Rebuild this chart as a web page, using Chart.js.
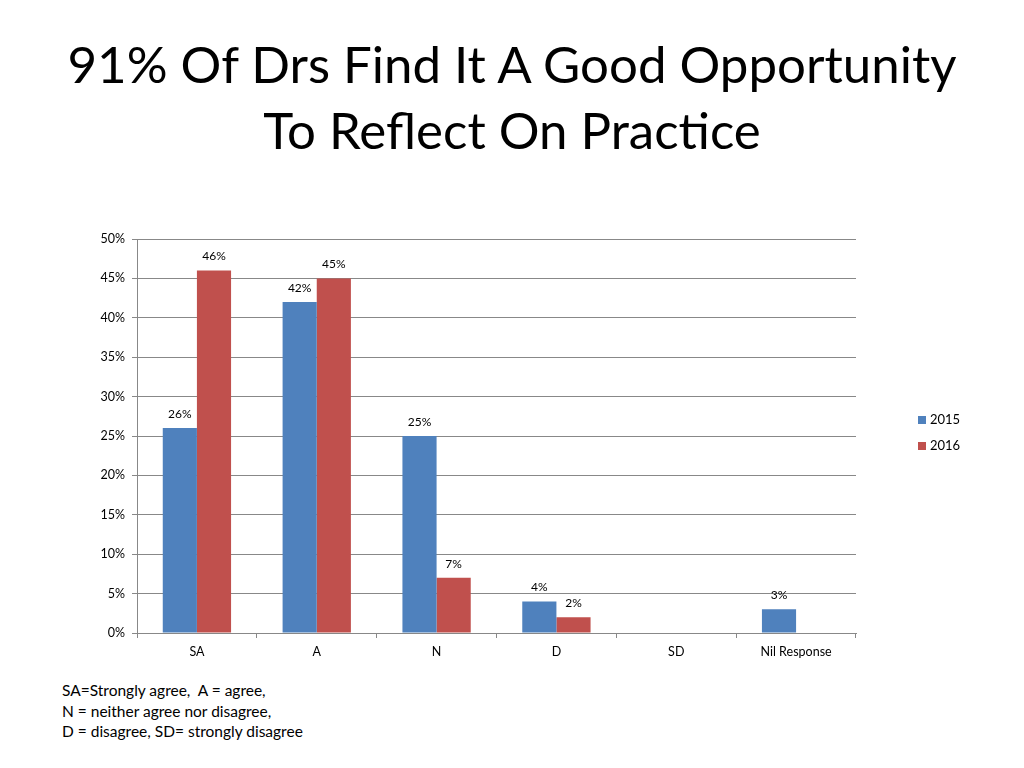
<!DOCTYPE html>
<html>
<head>
<meta charset="utf-8">
<script src="https://cdn.jsdelivr.net/npm/chart.js@4.4.1/dist/chart.umd.min.js"></script>
<style>
  body { margin: 0; width: 1024px; height: 768px; background: #fff; font-family: Lato, "Open Sans", sans-serif; position: relative; overflow: hidden; }
  .title { position: absolute; left: 0; top: 31px; width: 1024px; text-align: center; font-size: 51px; line-height: 66px; color: #000; }
  .chartBox { position: absolute; left: 0; top: 220px; width: 1024px; height: 460px; }
  .legend { position: absolute; left: 918px; top: 410px; font-size: 13px; color: #000; }
  .legend div { height: 26px; line-height: 18px; }
  .legend span { display: inline-block; width: 8px; height: 8px; margin-right: 4px; vertical-align: 0px; }
  .note { position: absolute; left: 62px; top: 680px; font-size: 15.5px; line-height: 20.5px; color: #000; }
</style>
</head>
<body>
<div class="title">91% Of Drs Find It A Good Opportunity<br>To Reflect On Practice</div>
<div class="chartBox"><canvas id="chart" width="1024" height="460"></canvas></div>
<div class="legend" id="legend"></div>
<div class="note">SA=Strongly agree,&nbsp; A = agree,<br>N = neither agree nor disagree,<br>D = disagree, SD= strongly disagree</div>
<script>
// data
const categories = ['SA', 'A', 'N', 'D', 'SD', 'Nil Response'];
const values2015 = [26, 42, 25, 4, null, 3];
const values2016 = [46, 45, 7, 2, null, null];
const seriesNames = ['2015', '2016'];
const seriesColors = ['#4f81bd', '#c0504d'];
const yTicks = [0, 5, 10, 15, 20, 25, 30, 35, 40, 45, 50];

const fontFamily = 'Lato, "Open Sans", sans-serif';

// value labels above each bar
const barLabels = {
  id: 'barLabels',
  afterDatasetsDraw(chart) {
    const ctx = chart.ctx;
    ctx.save();
    ctx.font = '12px ' + fontFamily;
    ctx.fillStyle = '#000';
    ctx.textAlign = 'center';
    ctx.textBaseline = 'bottom';
    chart.data.datasets.forEach((ds, i) => {
      chart.getDatasetMeta(i).data.forEach((bar, j) => {
        const v = ds.data[j];
        if (v === null) return;
        ctx.fillText(v + '%', bar.x, bar.y - 8);
      });
    });
    ctx.restore();
  }
};

const ctx = document.getElementById('chart').getContext('2d');
const chart = new Chart(ctx, {
  type: 'bar',
  data: {
    labels: categories,
    datasets: [
      { label: seriesNames[0], data: values2015, backgroundColor: seriesColors[0] },
      { label: seriesNames[1], data: values2016, backgroundColor: seriesColors[1] }
    ]
  },
  options: {
    responsive: false,
    animation: false,
    layout: { padding: { left: 80, right: 168, top: 19, bottom: 0 } },
    datasets: { bar: { categoryPercentage: 0.57, barPercentage: 1.0 } },
    plugins: {
      legend: { display: false },
      tooltip: { enabled: false }
    },
    scales: {
      x: {
        grid: { display: true, drawOnChartArea: false, drawTicks: true, tickLength: 5, color: '#888', offset: true },
        border: { color: '#888' },
        ticks: { color: '#000', font: { size: 12.5, family: fontFamily }, padding: 6 },
        afterFit(scale) { scale.height = 47; }
      },
      y: {
        min: 0,
        max: 50,
        afterBuildTicks(scale) { scale.ticks = yTicks.map(v => ({ value: v })); },
        grid: { color: '#888', tickLength: 5 },
        border: { color: '#888' },
        ticks: { color: '#000', font: { size: 12.5, family: fontFamily }, padding: 7, callback: v => v + '%' },
        afterFit(scale) { scale.width = 57; }
      }
    }
  },
  plugins: [barLabels]
});

// legend built from the datasets
const legendEl = document.getElementById('legend');
chart.data.datasets.forEach(ds => {
  const row = document.createElement('div');
  row.innerHTML = '<span style="background:' + ds.backgroundColor + '"></span>' + ds.label;
  legendEl.appendChild(row);
});
</script>
</body>
</html>
